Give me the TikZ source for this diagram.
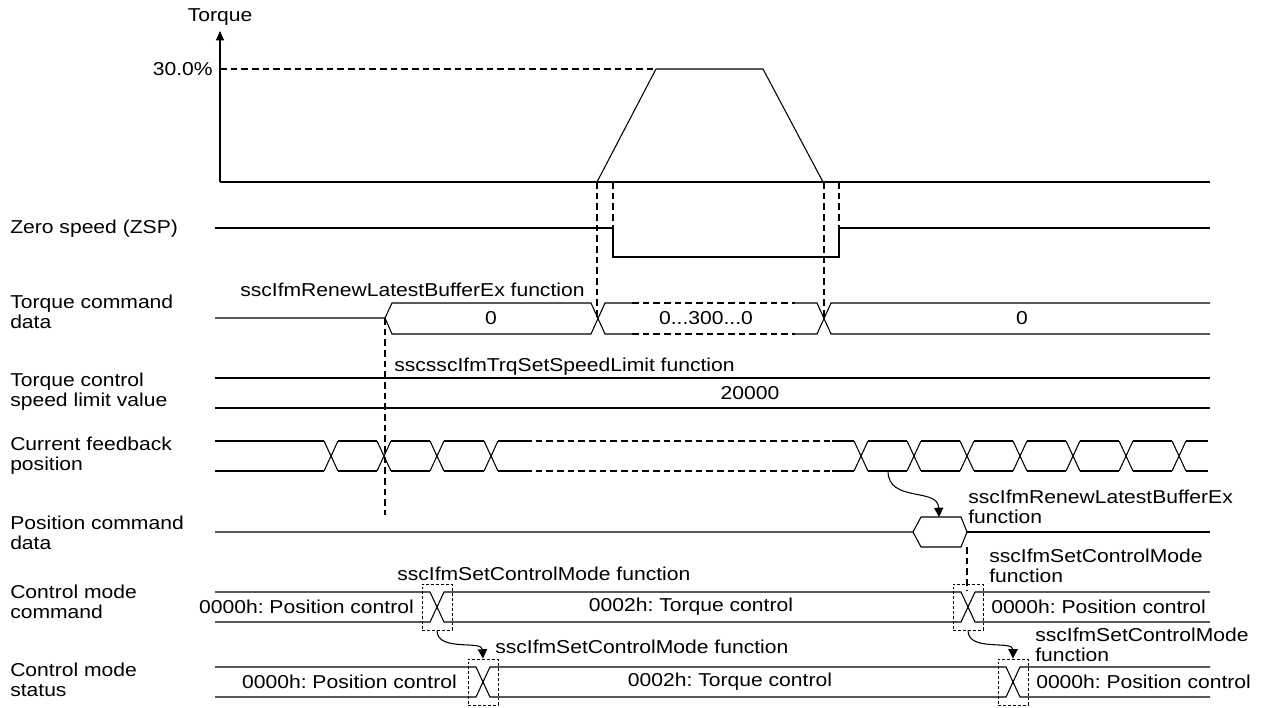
\documentclass[tikz,border=0pt]{standalone}
\usepackage{fontspec}
\setmainfont{Liberation Sans}[FakeStretch=1.13]
\usetikzlibrary{arrows.meta}
\frenchspacing
\begin{document}
\begin{tikzpicture}[x=0.75pt,y=-0.75pt,
  sig/.style={line width=0.8pt},
  dsh/.style={line width=0.8pt, dash pattern=on 5pt off 3pt},
  lbl/.style={font=\fontsize{14}{15}\selectfont, inner sep=0pt},
  rowlbl/.style={lbl, anchor=west, align=left},
  xbox/.style={draw, line width=0.7pt, dash pattern=on 2.2pt off 1.5pt, minimum width=22.5pt, minimum height=34.5pt, inner sep=0pt},
  tip/.style={-{Triangle[length=7pt,width=7pt]}}
]
\useasboundingbox (0,0) rectangle (1263,707);

% ---- row labels
\node[rowlbl] (lzsp) at (10,229) {Zero speed (ZSP)};
\node[rowlbl] (ltcd) at (10,312) {Torque command\\data};
\node[rowlbl] (ltsl) at (10,392) {Torque control\\speed limit value};
\node[rowlbl] (lcfp) at (10,456) {Current feedback\\position};
\node[rowlbl] (lpcd) at (10,533) {Position command\\data};
\node[rowlbl] (lcmc) at (10,602) {Control mode\\command};
\node[rowlbl] (lcms) at (10,680) {Control mode\\status};

% ---- torque graph
\coordinate (ax0) at (220,182);
\coordinate (ax1) at (220,31);
\draw[sig,-{Triangle[length=7pt,width=6pt]}] (ax0) -- (ax1);
\node[lbl] (ltq) at (220,17) {Torque};
\node[lbl, anchor=east] (l30) at (213,69) {30.0\%};
\draw[dsh] (220,69) -- (656,69);
\draw[sig] (ax0) -- (1210,182);
\draw[sig] (597,182) -- (656,69) -- (763,69) -- (823,182);

% ---- dashed guides
\draw[dsh] (597,182) -- (597,318);
\draw[dsh] (613,182) -- (613,228);
\draw[dsh] (824,182) -- (824,318);
\draw[dsh] (839,182) -- (839,228);

% ---- ZSP
\draw[sig] (215,228) -- (613,228) -- (613,257) -- (839,257) -- (839,228) -- (1210,228);

% ---- torque command data
\draw[sig] (215,318) -- (385,318) -- (392,303) -- (591,303) -- (605,334) -- (632,334);
\draw[sig] (385,318) -- (392,334) -- (591,334) -- (605,303) -- (632,303);
\draw[dsh] (632,303) -- (795,303) (632,334) -- (795,334);
\draw[sig] (795,303) -- (817,303) -- (831,334) -- (1210,334);
\draw[sig] (795,334) -- (817,334) -- (831,303) -- (1210,303);
\node[lbl, anchor=west] (trbf) at (240,290) {sscIfmRenewLatestBufferEx function};
\node[lbl] (tc0) at (491,318) {0};
\node[lbl] (tc1) at (706,318) {0...300...0};
\node[lbl] (tc2) at (1022,318) {0};

% ---- speed limit
\node[lbl, anchor=west] (tsl) at (394,367) {sscsscIfmTrqSetSpeedLimit function};
\draw[sig] (215,378) -- (1210,378);
\draw[sig] (215,408) -- (1210,408);
\node[lbl] (v20k) at (750,393) {20000};

\draw[dsh] (385,318) -- (385,515);

% ---- current feedback position
\foreach \c in {331,384,437,491,861,914,967,1020,1073,1126,1179}
  \draw[sig] (\c-7,441) -- (\c+7,471) (\c-7,471) -- (\c+7,441);
\foreach \a/\b in {215/324,338/377,391/430,444/484,498/525,832/854,868/907,921/960,974/1013,1027/1066,1080/1119,1133/1172,1186/1208}
  \draw[sig] (\a,441) -- (\b,441) (\a,471) -- (\b,471);
\draw[dsh] (525,441) -- (832,441) (525,471) -- (832,471);

% ---- position command data
\draw[sig] (215,532) -- (913,532) -- (921,517) -- (961,517) -- (967,532) -- (961,547) -- (921,547) -- (913,532);
\draw[sig] (967,532) -- (1210,532);
\coordinate (fbB) at (888,471);
\coordinate (hexT) at (939,517);
\draw[sig,tip] (fbB) .. controls (888,503) and (938,487) .. (hexT);
\node[rowlbl] (prbf) at (968,507) {sscIfmRenewLatestBufferEx\\function};
\draw[dsh] (967,547) -- (967,590);

% ---- control mode command
\draw[sig] (215,592) -- (430,592) -- (444,622) -- (961,622) -- (975,592) -- (1210,592);
\draw[sig] (215,622) -- (430,622) -- (444,592) -- (961,592) -- (975,622) -- (1210,622);
\node[xbox] (cb1) at (437,607) {};
\node[xbox] (cb2) at (968,607) {};
\node[lbl, anchor=east] (cm0) at (414,607) {0000h: Position control};
\node[lbl] (cm1) at (691,607) {0002h: Torque control};
\node[lbl, anchor=west] (cm2) at (991,607) {0000h: Position control};
\node[lbl, anchor=west] (cf1) at (397,574) {sscIfmSetControlMode function};
\node[rowlbl] (cf2) at (989,566) {sscIfmSetControlMode\\function};

% ---- control mode status
\draw[sig] (215,667) -- (476,667) -- (490,697) -- (1006,697) -- (1020,667) -- (1210,667);
\draw[sig] (215,697) -- (476,697) -- (490,667) -- (1006,667) -- (1020,697) -- (1210,697);
\node[xbox] (sb1) at (483,682) {};
\node[xbox] (sb2) at (1013,682) {};
\node[lbl, anchor=east] (sm0) at (457,682) {0000h: Position control};
\node[lbl] (sm1) at (730,682) {0002h: Torque control};
\node[lbl, anchor=west] (sm2) at (1036,682) {0000h: Position control};
\node[lbl, anchor=west] (sf1) at (495,647) {sscIfmSetControlMode function};
\node[rowlbl] (sf2) at (1035,645) {sscIfmSetControlMode\\function};

\draw[sig,tip] (cb1.south) .. controls (437,652) and (482,640) .. (sb1.north);
\draw[sig,tip] (cb2.south) .. controls (968,652) and (1013,640) .. (sb2.north);
\end{tikzpicture}
\end{document}
